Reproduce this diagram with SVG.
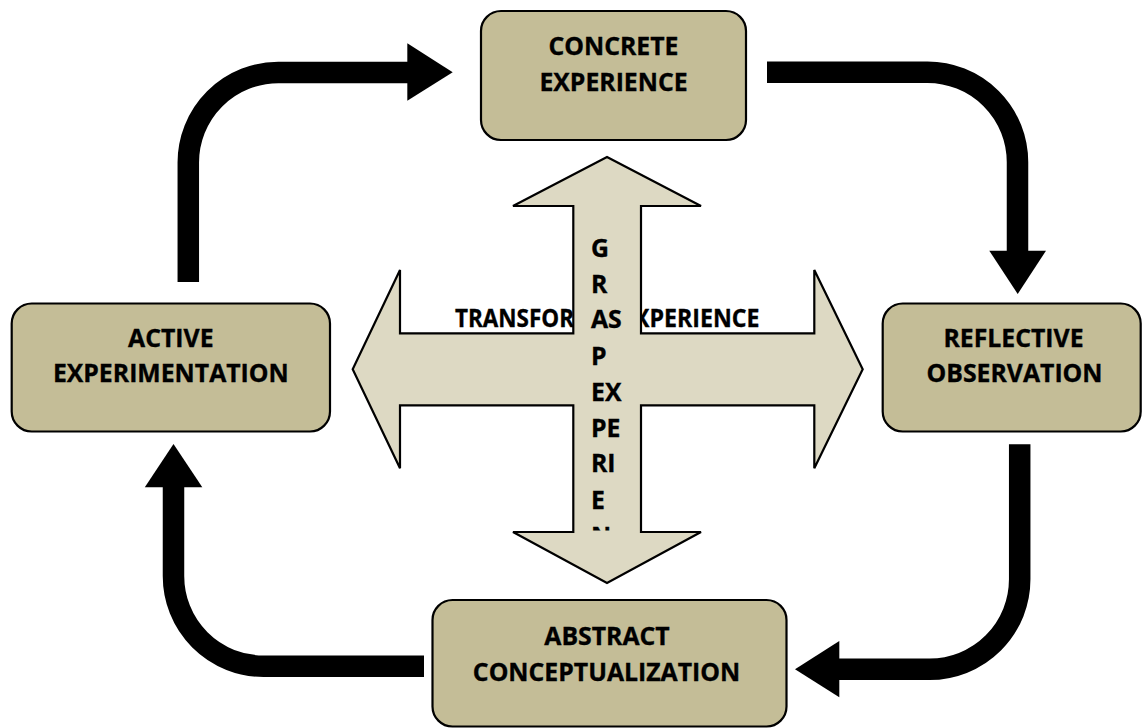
<svg xmlns="http://www.w3.org/2000/svg" width="1142" height="728" viewBox="0 0 1142 728">
  <style>
    .box { fill: #C4BD97; stroke: #000; stroke-width: 2.2; }
    .lbl { font-family: "Open Sans", "Noto Sans", "Liberation Sans", sans-serif; font-weight: 700; font-size: 24.8px; fill: #000; stroke: #000; stroke-width: 0.35; }
    .mid { text-anchor: middle; }
    .shaft { fill: none; stroke: #000; stroke-width: 21.5; stroke-linecap: butt; }
    .head { fill: #000; stroke: none; }
    .cross { fill: #DDD9C3; stroke: #000; stroke-width: 2.2; stroke-linejoin: miter; }
  </style>
  <defs>
    <clipPath id="vclip">
      <rect x="574" y="207" width="66" height="323.5"/>
    </clipPath>
  </defs>
  <rect width="1142" height="728" fill="#fff"/>

  <g id="connectors">
    <path class="shaft" d="M188.3 282 L188.3 162.5 A90 90 0 0 1 278.3 72.5 L408 72.5"/>
    <polygon class="head" points="407.3,43.3 452.7,72.3 407.3,100.7"/>
    <path class="shaft" d="M767 72.2 L927.5 72.2 A90 90 0 0 1 1017.5 162.2 L1017.5 251.5"/>
    <polygon class="head" points="989.3,250.7 1046,250.7 1017.7,294"/>
    <path class="shaft" d="M1019.7 444.3 L1019.7 579.3 A90 90 0 0 1 929.7 669.3 L838.5 669.3"/>
    <polygon class="head" points="839.3,641 795,669.2 839.3,697.3"/>
    <path class="shaft" d="M424 666.2 L263.5 666.2 A90 90 0 0 1 173.5 576.2 L173.5 486.5"/>
    <polygon class="head" points="144.8,487.3 202.3,487.3 173.5,444"/>
  </g>

  <g id="center-cross">
    <text class="lbl" x="455" y="327" textLength="119" lengthAdjust="spacingAndGlyphs">TRANSFOR</text>
    <text class="lbl" x="634" y="327" textLength="125.5" lengthAdjust="spacingAndGlyphs">XPERIENCE</text>
    <polygon class="cross" points="607,157 701,206 641,206 641,333.3 814.3,333.3 814.3,270 862.7,369.3 814.3,468.3 814.3,405.3 641,405.3 641,532 701,532 607,583 513,532 573.3,532 573.3,405.3 400,405.3 400,468.3 352.7,369.3 400,270 400,333.3 573.3,333.3 573.3,206 513,206"/>
    <g clip-path="url(#vclip)">
      <text class="lbl" x="591" y="257">G</text>
      <text class="lbl" x="591" y="293">R</text>
      <text class="lbl" x="591" y="328">AS</text>
      <text class="lbl" x="591" y="364.5">P</text>
      <text class="lbl" x="591" y="400.7">EX</text>
      <text class="lbl" x="591" y="436.7">PE</text>
      <text class="lbl" x="591" y="472">RI</text>
      <text class="lbl" x="591" y="508.5">E</text>
      <text class="lbl" x="591" y="544.5">N</text>
    </g>
  </g>

  <g id="concrete-experience">
    <rect class="box" x="481" y="11" width="265" height="129" rx="20"/>
    <text class="lbl mid" x="613.5" y="55">CONCRETE</text>
    <text class="lbl mid" x="613.5" y="90.7">EXPERIENCE</text>
  </g>

  <g id="active-experimentation">
    <rect class="box" x="11.7" y="303.5" width="318.3" height="128" rx="20"/>
    <text class="lbl mid" x="170.8" y="346.7">ACTIVE</text>
    <text class="lbl mid" x="170.8" y="382.3">EXPERIMENTATION</text>
  </g>

  <g id="reflective-observation">
    <rect class="box" x="882.7" y="303.5" width="258" height="128" rx="20"/>
    <text class="lbl mid" x="1013.5" y="346.7">REFLECTIVE</text>
    <text class="lbl mid" x="1014.5" y="382.3">OBSERVATION</text>
  </g>

  <g id="abstract-conceptualization">
    <rect class="box" x="432.5" y="600" width="354" height="126.5" rx="20"/>
    <text class="lbl mid" x="607" y="645">ABSTRACT</text>
    <text class="lbl mid" x="606.5" y="680.7">CONCEPTUALIZATION</text>
  </g>
</svg>
